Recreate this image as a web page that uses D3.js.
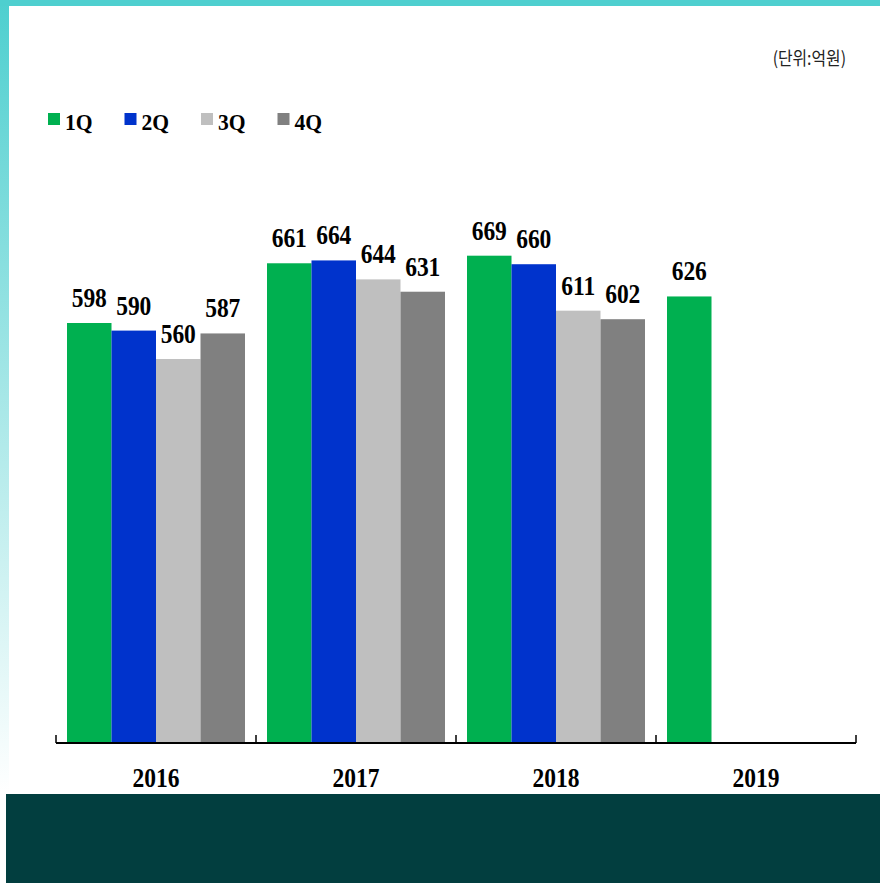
<!DOCTYPE html>
<html>
<head>
<meta charset="utf-8">
<script src="https://cdn.jsdelivr.net/npm/d3@7"></script>
<style>
  html, body { margin: 0; padding: 0; background: #fff; }
  svg { display: block; }
</style>
</head>
<body>
<script>
// ---- data ----
const years = ["2016", "2017", "2018", "2019"];
const quarters = ["1Q", "2Q", "3Q", "4Q"];
const q1 = [598, 661, 669, 626];
const q2 = [590, 664, 660, null];
const q3 = [560, 644, 611, null];
const q4 = [587, 631, 602, null];
const seriesColors = ["#00B050", "#0033CC", "#BFBFBF", "#808080"];
const unitLabel = "(단위:억원)";

const W = 880, H = 883;
const svg = d3.select("body").append("svg").attr("width", W).attr("height", H);

// ---- frame decoration ----
const defs = svg.append("defs");
const grad = defs.append("linearGradient").attr("id", "lg").attr("x1", 0).attr("y1", 0).attr("x2", 0).attr("y2", 1);
grad.append("stop").attr("offset", "0%").attr("stop-color", "#4ECFCF");
grad.append("stop").attr("offset", "100%").attr("stop-color", "#ffffff");
svg.append("rect").attr("x", 0).attr("y", 0).attr("width", 9).attr("height", 794).attr("fill", "url(#lg)");
svg.append("rect").attr("x", 0).attr("y", 0).attr("width", W).attr("height", 6).attr("fill", "#4ECFCF");
svg.append("rect").attr("x", 6).attr("y", 794).attr("width", W - 6).attr("height", H - 794).attr("fill", "#023E3F");

// ---- scales ----
const x0 = d3.scaleBand().domain(years).range([56, 856]).paddingInner(0).paddingOuter(0);
const x1 = d3.scaleBand().domain(quarters).range([11, x0.bandwidth() - 11]).padding(0);
const y = d3.scaleLinear().domain([155, 700]).range([743, 226.3]);

const series = [q1, q2, q3, q4];
const rows = [];
series.forEach((vals, si) => {
  vals.forEach((v, yi) => {
    if (v != null) rows.push({ year: years[yi], q: quarters[si], v, color: seriesColors[si] });
  });
});

const serif = "'Liberation Serif', 'Times New Roman', serif";

// bars
svg.append("g").selectAll("rect").data(rows).join("rect")
  .attr("x", d => x0(d.year) + x1(d.q))
  .attr("y", d => y(d.v))
  .attr("width", x1.bandwidth())
  .attr("height", d => y.range()[0] - y(d.v))
  .attr("fill", d => d.color);

// value labels
svg.append("g").selectAll("text").data(rows).join("text")
  .attr("transform", d => `translate(${x0(d.year) + x1(d.q) + x1.bandwidth() / 2},${y(d.v) - 16}) scale(0.87,1)`)
  .attr("text-anchor", "middle")
  .attr("font-family", serif)
  .attr("font-weight", "bold")
  .attr("font-size", 27)
  .attr("fill", "#000")
  .text(d => d.v);

// x axis
const gx = svg.append("g").attr("transform", "translate(0,743)");
gx.append("line").attr("x1", 56).attr("x2", 856).attr("y1", 0).attr("y2", 0)
  .attr("stroke", "#000").attr("stroke-width", 2);
const tickPos = years.map(yr => x0(yr)).concat([x0.range()[1]]);
gx.selectAll("line.tk").data(tickPos).join("line").attr("class", "tk")
  .attr("x1", d => d).attr("x2", d => d).attr("y1", -8).attr("y2", 0)
  .attr("stroke", "#000").attr("stroke-width", 1.5);
gx.selectAll("text.yl").data(years).join("text").attr("class", "yl")
  .attr("transform", d => `translate(${x0(d) + x0.bandwidth() / 2},44) scale(0.87,1)`)
  .attr("text-anchor", "middle")
  .attr("font-family", serif)
  .attr("font-weight", "bold")
  .attr("font-size", 27)
  .attr("fill", "#000")
  .text(d => d);

// legend
const lg = svg.append("g");
quarters.forEach((q, i) => {
  const lx = 48 + i * 76.5;
  lg.append("rect").attr("x", lx).attr("y", 113).attr("width", 12).attr("height", 12).attr("fill", seriesColors[i]);
  lg.append("text").attr("transform", `translate(${lx + 17},129.5) scale(0.9,1)`)
    .attr("font-family", serif).attr("font-weight", "bold").attr("font-size", 24)
    .attr("fill", "#000").text(q);
});

// unit label
svg.append("text").attr("transform", "translate(846,65) scale(0.88,1)").attr("text-anchor", "end")
  .attr("font-family", "'Noto Sans CJK KR', sans-serif").attr("font-size", 18)
  .attr("fill", "#222").text(unitLabel);
</script>
</body>
</html>
